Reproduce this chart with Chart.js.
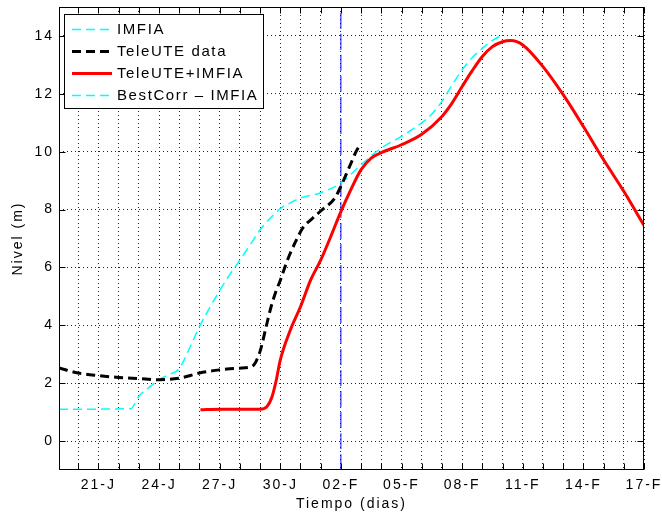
<!DOCTYPE html>
<html lang="es">
<head>
    <meta charset="UTF-8">
    <title>Nivel</title>
    <script src="https://cdn.jsdelivr.net/npm/chart.js"></script>
    <style>
        body { margin: 0; background: #fff; }
    </style>
</head>
<body>
    <canvas id="nivelChart" width="662" height="516"></canvas>
    <script>
        // dias contados desde el 1 de enero (01-F = 32)
        const labelDays = [21, 24, 27, 30, 33, 36, 39, 42, 45, 48];
        const labelText = ['21-J', '24-J', '27-J', '30-J', '02-F', '05-F', '08-F', '11-F', '14-F', '17-F'];
        const gridDays = [20, 21, 22, 23, 24, 25, 26, 27, 28, 29, 30, 31, 32, 33, 34,
                          35, 36, 37, 38, 39, 40, 41, 42, 43, 44, 45, 46, 47, 48];
        const levelTicks = [0, 2, 4, 6, 8, 10, 12, 14];

        const imfiaDays  = [19.05, 22.6, 23, 23.5, 24, 24.5, 25, 25.5, 26, 26.5, 27, 27.5, 28, 28.5, 29, 29.5,
                            30, 30.5, 31, 32, 33, 34, 35, 36, 37, 37.5, 38, 38.5, 39, 39.5, 40, 40.5, 41];
        const imfiaLevel = [1.1, 1.12, 1.55, 1.85, 2.12, 2.3, 2.5, 3.2, 3.95, 4.6, 5.2, 5.75, 6.25, 6.77, 7.3, 7.7,
                            8.03, 8.23, 8.4, 8.58, 8.92, 9.55, 10.13, 10.53, 11.0, 11.3, 11.74, 12.3, 12.83, 13.25, 13.57, 13.85, 14.03];

        const teleDays  = [19.05, 20, 21, 22, 23, 24, 25, 26, 27, 28, 28.6, 29, 29.3, 29.55, 29.8, 30, 30.3,
                           30.5, 30.8, 31.1, 31.6, 32, 32.7, 33, 33.25, 33.5, 33.75, 33.95];
        const teleLevel = [2.53, 2.35, 2.26, 2.2, 2.16, 2.12, 2.17, 2.35, 2.46, 2.52, 2.58, 3.1, 3.95, 4.65, 5.2, 5.55, 6.15,
                           6.5, 6.95, 7.35, 7.7, 7.95, 8.4, 8.8, 9.2, 9.6, 10.0, 10.25];

        const mixDays  = [26.05, 27, 28, 29, 29.35, 29.6, 29.8, 30, 30.5, 31, 31.5, 32, 32.5, 33, 33.5, 34, 34.5, 35,
                          36, 37, 38, 38.5, 39, 39.5, 40, 40.5, 41, 41.4, 42, 43, 44, 45, 46, 47, 48];
        const mixLevel = [1.08, 1.1, 1.1, 1.1, 1.2, 1.55, 2.1, 2.8, 3.84, 4.64, 5.56, 6.25, 7.07, 7.93, 8.7, 9.38, 9.78, 9.97,
                          10.24, 10.6, 11.22, 11.68, 12.25, 12.8, 13.29, 13.63, 13.8, 13.84, 13.69, 12.94, 11.97, 10.87, 9.72, 8.63, 7.45];

        const markerDay = 33;

        const toPoints = (days, vals) => days.map((d, i) => ({ x: d, y: vals[i] }));

        Chart.defaults.font.family = '"Liberation Sans", Arial, sans-serif';
        Chart.defaults.font.size = 14;
        Chart.defaults.color = '#000';

        // texto espaciado como en matlab
        const spacing = {
            id: 'spacing',
            beforeUpdate(chart) { chart.ctx.letterSpacing = '2px'; },
            beforeDraw(chart) { chart.ctx.letterSpacing = '2px'; }
        };

        // marco, marcas hacia dentro y leyenda
        const frame = {
            id: 'frame',
            afterDraw(chart) {
                const { ctx, chartArea: a, scales: { x, y } } = chart;
                const l = Math.round(a.left) + 0.5, r = Math.round(a.right) - 0.5;
                const t = Math.round(a.top) + 0.5, b = Math.round(a.bottom) - 0.5;
                ctx.save();
                ctx.strokeStyle = '#000';
                ctx.lineWidth = 1;
                ctx.setLineDash([]);
                ctx.strokeRect(l, t, r - l, b - t);
                ctx.beginPath();
                x.ticks.forEach(tk => {
                    const px = Math.round(x.getPixelForValue(tk.value)) + 0.5;
                    ctx.moveTo(px, b); ctx.lineTo(px, b - 6);
                    ctx.moveTo(px, t); ctx.lineTo(px, t + 6);
                });
                y.ticks.forEach(tk => {
                    const py = Math.round(y.getPixelForValue(tk.value)) + 0.5;
                    ctx.moveTo(l, py); ctx.lineTo(l + 6, py);
                    ctx.moveTo(r, py); ctx.lineTo(r - 6, py);
                });
                ctx.stroke();

                // leyenda
                ctx.fillStyle = '#fff';
                ctx.fillRect(64.5, 14.5, 199, 94);
                ctx.strokeRect(64.5, 14.5, 199, 94);
                ctx.font = '15px "Liberation Sans", Arial, sans-serif';
                ctx.letterSpacing = '1.6px';
                ctx.textBaseline = 'middle';
                chart.data.datasets.filter(d => d.label).forEach((d, i) => {
                    const yy = 29.5 + i * 22;
                    ctx.strokeStyle = d.borderColor;
                    ctx.lineWidth = d.borderWidth;
                    ctx.setLineDash(d.borderDash || []);
                    ctx.beginPath();
                    ctx.moveTo(72, yy); ctx.lineTo(112, yy);
                    ctx.stroke();
                    ctx.fillStyle = '#000';
                    ctx.fillText(d.label, 117, yy);
                });
                ctx.restore();
            }
        };

        const ctx = document.getElementById('nivelChart').getContext('2d');
        new Chart(ctx, {
            type: 'line',
            data: {
                datasets: [
                    {
                        label: 'IMFIA',
                        data: toPoints(imfiaDays, imfiaLevel),
                        borderColor: '#00ffff', borderWidth: 1.5, borderDash: [9, 5],
                        order: 2
                    },
                    {
                        label: 'TeleUTE data',
                        data: toPoints(teleDays, teleLevel),
                        borderColor: '#000000', borderWidth: 3, borderDash: [9, 5],
                        order: 1
                    },
                    {
                        label: 'TeleUTE+IMFIA',
                        data: toPoints(mixDays, mixLevel),
                        borderColor: '#ff0000', borderWidth: 3,
                        order: 0
                    },
                    {
                        label: 'BestCorr \u2013 IMFIA',
                        data: [],
                        borderColor: '#00ffff', borderWidth: 1.5, borderDash: [9, 5],
                        order: 3
                    },
                    {
                        label: '',
                        data: [{ x: markerDay, y: -1 }, { x: markerDay, y: 15 }],
                        borderColor: '#0000ff', borderWidth: 1, borderDash: [16, 5],
                        order: 4
                    }
                ]
            },
            options: {
                responsive: false,
                animation: false,
                cubicInterpolationMode: 'monotone',
                elements: { point: { radius: 0 } },
                layout: { padding: { top: 7, right: 18, left: 0, bottom: 0 } },
                plugins: { legend: { display: false }, tooltip: { enabled: false } },
                scales: {
                    x: {
                        type: 'linear',
                        min: 19.05,
                        max: 48,
                        afterBuildTicks: s => { s.ticks = gridDays.map(v => ({ value: v })); },
                        afterFit: s => { s.height = 46; s.paddingLeft = 0; s.paddingRight = 0; },
                        ticks: {
                            autoSkip: false,
                            maxRotation: 0,
                            padding: 7,
                            callback: v => {
                                const i = labelDays.indexOf(v);
                                return i >= 0 ? labelText[i] : '';
                            }
                        },
                        grid: { color: 'rgba(0,0,0,0.85)', lineWidth: 1, drawTicks: false },
                        border: { display: false, dash: [1, 3] },
                        title: { display: true, text: 'Tiempo (dias)', padding: { top: 0, bottom: 3 } }
                    },
                    y: {
                        min: -1,
                        max: 15,
                        afterBuildTicks: s => { s.ticks = levelTicks.map(v => ({ value: v })); },
                        afterFit: s => { s.width = 59; s.paddingTop = 0; s.paddingBottom = 0; },
                        ticks: { padding: 5 },
                        grid: { color: 'rgba(0,0,0,0.85)', lineWidth: 1, drawTicks: false },
                        border: { display: false, dash: [1, 3] },
                        title: { display: true, text: 'Nivel (m)', padding: { top: 10, bottom: 0 } }
                    }
                }
            },
            plugins: [spacing, frame]
        });
    </script>
</body>
</html>
